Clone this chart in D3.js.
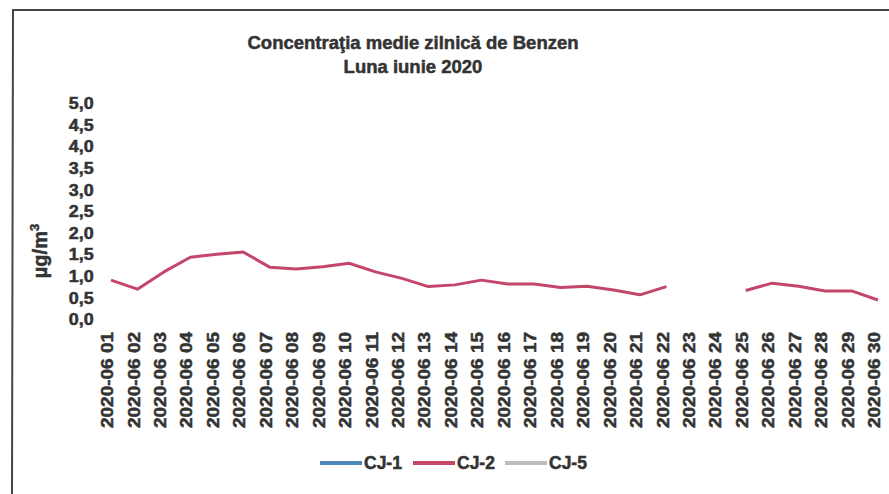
<!DOCTYPE html>
<html>
<head>
<meta charset="utf-8">
<script src="https://cdn.jsdelivr.net/npm/d3@7"></script>
<style>
  body { margin: 0; background: #fff; }
  text { font-family: "Liberation Sans", Arial, sans-serif; font-weight: bold; fill: #333; stroke: #333; stroke-width: 0.5px; }
</style>
</head>
<body>
<svg class="chart" width="889" height="494"></svg>
<script>
// data
var days = ["01","02","03","04","05","06","07","08","09","10","11","12","13","14","15",
            "16","17","18","19","20","21","22","23","24","25","26","27","28","29","30"];
var categories = days.map(function(d) { return "2020-06 " + d; });
var cj1 = days.map(function() { return null; });
var cj2 = [0.90, 0.69, 1.09, 1.43, 1.50, 1.55, 1.20, 1.16, 1.21, 1.29,
           1.09, 0.94, 0.75, 0.79, 0.90, 0.81, 0.81, 0.73, 0.76, 0.67,
           0.56, 0.75, null, null, 0.66, 0.83, 0.76, 0.65, 0.65, 0.44];
var cj5 = days.map(function() { return null; });
var yTicks = [0, 0.5, 1, 1.5, 2, 2.5, 3, 3.5, 4, 4.5, 5];
var seriesNames = ["CJ-1", "CJ-2", "CJ-5"];
var seriesColors = ["#4f87b9", "#c4466a", "#bdbdbd"];

var svg = d3.select(".chart");
var margin = {top: 103, left: 111, right: 11, bottom: 175},
    width = 889 - margin.left - margin.right,
    height = 494 - margin.top - margin.bottom;

// frame of the scanned page
svg.append("path")
  .attr("d", "M12,494 L13,10 L889,10")
  .attr("fill", "none")
  .attr("stroke", "#444")
  .attr("stroke-width", 2);

svg.append("text")
  .attr("x", 413).attr("y", 49)
  .attr("text-anchor", "middle")
  .style("font-size", "18.5px")
  .text("Concentraţia medie zilnică de Benzen");
svg.append("text")
  .attr("x", 413).attr("y", 73)
  .attr("text-anchor", "middle")
  .style("font-size", "18.5px")
  .text("Luna iunie 2020");

var chart = svg.append("g")
  .attr("transform", "translate(" + margin.left + "," + margin.top + ")");

var x = d3.scalePoint().domain(categories).range([0, width]);
var y = d3.scaleLinear().domain([0, 5]).range([height, 0]);

// y axis labels only
var yAxis = chart.append("g")
  .attr("transform", "translate(-14,0)")
  .call(d3.axisLeft(y).tickValues(yTicks).tickSize(0)
    .tickFormat(function(d) { return d.toFixed(1).replace(".", ","); }));
yAxis.select(".domain").remove();
yAxis.selectAll("text")
  .style("font-size", "16px")
  .attr("fill", "#333")
  .attr("transform", "scale(1.12,1)")
  .attr("dy", "0.35em");

svg.append("text")
  .attr("transform", "translate(47,251) rotate(-90)")
  .attr("text-anchor", "middle")
  .style("font-size", "20px")
  .html("µg/m<tspan dy='-8' style='font-size:13px'>3</tspan>");

// x axis labels, rotated
var xAxis = chart.append("g")
  .attr("transform", "translate(0," + height + ")")
  .call(d3.axisBottom(x).tickSize(0));
xAxis.select(".domain").remove();
xAxis.selectAll("text")
  .style("font-size", "16px")
  .attr("fill", "#333")
  .attr("text-anchor", "end")
  .attr("textLength", 96)
  .attr("lengthAdjust", "spacingAndGlyphs")
  .attr("transform", "translate(-4,13) rotate(-90)")
  .attr("x", 0).attr("y", 0)
  .attr("dy", "0.35em");

var line = d3.line()
  .defined(function(d) { return d != null; })
  .x(function(d, i) { return x(categories[i]); })
  .y(function(d) { return y(d); });

[cj1, cj2, cj5].forEach(function(s, k) {
  chart.append("path")
    .datum(s)
    .attr("fill", "none")
    .attr("stroke", seriesColors[k])
    .attr("stroke-width", 3)
    .attr("stroke-linejoin", "round")
    .attr("d", line);
});

// legend
var legendX = [320, 413, 505];
var legend = svg.selectAll(".legend")
  .data(seriesNames)
  .enter().append("g")
  .attr("transform", function(d, i) { return "translate(" + legendX[i] + ",463)"; });
legend.append("line")
  .attr("x1", 0).attr("x2", 42)
  .attr("stroke", function(d, i) { return seriesColors[i]; })
  .attr("stroke-width", 4);
legend.append("text")
  .attr("x", 44).attr("dy", "0.36em")
  .style("font-size", "17.5px")
  .text(function(d) { return d; });
</script>
</body>
</html>
